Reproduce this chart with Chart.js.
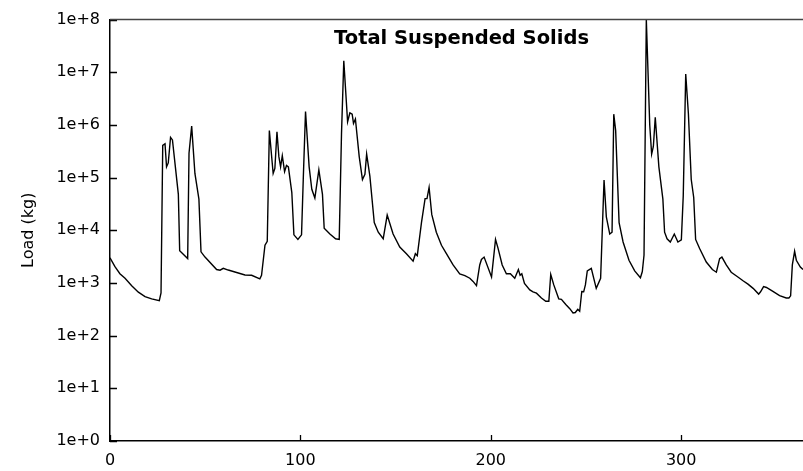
<!DOCTYPE html>
<html>

<head>
    <meta charset="utf-8">
    <title>Total Suspended Solids</title>
    <style>
        html, body { margin: 0; padding: 0; background: #fff; }
        #wrap { width: 803px; height: 471px; }
    </style>
</head>

<body>
    <div id="wrap"><canvas id="myChart"></canvas></div>
    <script src="https://cdn.jsdelivr.net/npm/chart.js@4.4.6/dist/chart.umd.min.js"></script>
    <script>
        // day of year
        const days = [
            0, 2.6, 5.2, 7.9, 11.4, 14.9, 18.4, 21.9, 25.9, 26.8,
            27.7, 28.9, 29.7, 30.6, 31.8, 32.8, 35.9, 36.6, 40.8, 41.5,
            42.9, 44.6, 46.7, 47.8, 49.9, 56, 57.8, 59.5, 62.1, 70.9,
            74.4, 78.7, 79.6, 81.4, 82.6, 83.7, 85.7, 86.6, 87.7, 88.7,
            89.6, 90.5, 91.7, 92.7, 93.7, 95.5, 96.6, 98.7, 100.6, 101.5,
            102.7, 104.6, 106, 107.6, 109.7, 111.6, 112.5, 115.5, 118.5, 120.4,
            121.6, 122.8, 124.8, 126, 127.2, 127.9, 128.9, 130.9, 132.6, 133.9,
            134.8, 136.5, 138.8, 140.9, 143.5, 145.6, 148.7, 152.2, 155.7, 159.2,
            160.4, 161.4, 163.6, 165.5, 166.5, 167.6, 169, 171.4, 174.1, 176.7,
            180.2, 183.7, 186.4, 189, 190.7, 192.5, 194.2, 195.1, 196.5, 200.4,
            202.5, 203.8, 206, 208.2, 210.3, 212.6, 214.5, 215.4, 216.3, 217.7,
            220.5, 222.2, 224, 226.6, 228.9, 230.5, 231.5, 233.1, 235.7, 237.1,
            239.4, 241.5, 243.2, 244.4, 245.7, 246.7, 247.8, 248.8, 249.7, 250.7,
            252.8, 255.4, 257.7, 259.5, 260.7, 262.5, 263.7, 264.6, 265.6, 267.4,
            269.5, 272.6, 275.6, 278.6, 279.6, 280.5, 281.7, 283.5, 284.5, 285.4,
            286.4, 288.3, 290.4, 291.3, 292.6, 294.3, 296.4, 298.3, 300.1, 301.1,
            302.4, 303.8, 305.3, 306.6, 307.6, 309.7, 313.2, 316.4, 318.5, 320.2,
            321.4, 323.7, 326.3, 329.8, 332.5, 335.1, 337.8, 340.7, 341.7, 343.3,
            344.8, 348.2, 351.7, 355.2, 356.6, 357.5, 358.4, 359.6, 360.5, 362.6,
            364
        ]
        // load in kg
        const loads = [
            3000, 2040, 1500, 1230, 890, 670, 550, 500, 460, 645,
            4.1e5, 4.4e5, 1.6e5, 1.9e5, 5.8e5, 5.2e5, 4.8e4, 4.1e3, 2.9e3, 2.9e5,
            9.5e5, 1.2e5, 3.9e4, 3.9e3, 3.1e3, 1.8e3, 1.75e3, 1.9e3, 1.76e3, 1.42e3,
            1.4e3, 1.2e3, 1.4e3, 5.2e3, 6.2e3, 7.8e5, 1.2e5, 1.5e5, 7.4e5, 2.5e5,
            1.6e5, 2.6e5, 1.3e5, 1.7e5, 1.6e5, 5.2e4, 8.2e3, 6.7e3, 8.2e3, 9e4,
            1.8e6, 1.6e5, 6e4, 4.1e4, 1.4e5, 4.8e4, 1.1e4, 8.5e3, 6.9e3, 6.7e3,
            6.9e5, 1.65e7, 1.15e6, 1.7e6, 1.6e6, 1.07e6, 1.3e6, 2.5e5, 9.2e4, 1.15e5,
            2.8e5, 1.07e5, 1.4e4, 9.2e3, 6.9e3, 1.95e4, 8.5e3, 4.8e3, 3.6e3, 2.6e3,
            3.6e3, 3.3e3, 1.4e4, 4e4, 4e4, 6.5e4, 2e4, 9.2e3, 5.2e3, 3.6e3,
            2.2e3, 1.48e3, 1.38e3, 1.23e3, 1.07e3, 890, 2.2e3, 2.8e3, 3.1e3, 1.3e3,
            6.7e3, 4.6e3, 2.2e3, 1.5e3, 1.5e3, 1.23e3, 1.8e3, 1.4e3, 1.5e3, 980,
            740, 680, 640, 520, 450, 450, 1.45e3, 920, 500, 490,
            390, 325, 270, 275, 316, 290, 690, 680, 920, 1.7e3,
            1.9e3, 790, 1.23e3, 9e4, 1.8e4, 8.5e3, 9.2e3, 1.6e6, 7.8e5, 1.4e4,
            6e3, 2.7e3, 1.7e3, 1.26e3, 1.65e3, 3.4e3, 1e8, 1e6, 2.8e5, 3.9e5,
            1.4e6, 1.6e5, 3.9e4, 9.2e3, 6.9e3, 6e3, 8.5e3, 6e3, 6.6e3, 4.5e4,
            9.3e6, 1.65e6, 9.2e4, 4.2e4, 6.7e3, 4.5e3, 2.5e3, 1.8e3, 1.6e3, 2.9e3,
            3.1e3, 2.2e3, 1.6e3, 1.3e3, 1.1e3, 950, 790, 615, 680, 850,
            820, 690, 575, 520, 520, 570, 2.2e3, 4e3, 2.7e3, 2e3,
            1.8e3
        ]
        const xTicks = [0, 100, 200, 300]
        const yTicks = [1, 10, 100, 1e3, 1e4, 1e5, 1e6, 1e7, 1e8]
        const titleText = "Total Suspended Solids"
        const yTitle = "Load (kg)"

        const FONT = "'DejaVu Sans', sans-serif"

        // inward tick marks, top frame line and the inset title
        const framePlugin = {
            id: "frame",
            afterDraw(chart) {
                const ctx = chart.ctx
                const area = chart.chartArea
                const xs = chart.scales.x
                const ys = chart.scales.y
                ctx.save()
                ctx.strokeStyle = "#000"
                ctx.lineWidth = 1.3
                ctx.beginPath()
                yTicks.forEach(v => {
                    const py = Math.round(ys.getPixelForValue(v)) + 0.5
                    ctx.moveTo(area.left, py)
                    ctx.lineTo(area.left + 7, py)
                })
                xTicks.forEach(v => {
                    const px = Math.round(xs.getPixelForValue(v)) + 0.5
                    ctx.moveTo(px, area.bottom)
                    ctx.lineTo(px, area.bottom - 6)
                })
                ctx.stroke()
                ctx.strokeStyle = "#444"
                ctx.lineWidth = 1.5
                ctx.beginPath()
                ctx.moveTo(area.left, area.top)
                ctx.lineTo(area.right, area.top)
                ctx.stroke()
                ctx.fillStyle = "#000"
                ctx.font = "bold 19.5px " + FONT
                ctx.textAlign = "center"
                ctx.textBaseline = "middle"
                ctx.fillText(titleText, (area.left + area.right) / 2 + 5, area.top + 19)
                ctx.restore()
            },
        }

        const config = {
            type: "line",
            data: {
                datasets: [{
                    label: "TSS",
                    data: days.map((d, i) => ({ x: d, y: loads[i] })),
                    borderColor: "#000",
                    borderWidth: 1.4,
                    pointRadius: 0,
                    fill: false,
                    tension: 0,
                }],
            },
            options: {
                responsive: true,
                maintainAspectRatio: false,
                animation: false,
                layout: { padding: { top: 15, right: 0, left: 0, bottom: 0 } },
                plugins: {
                    legend: { display: false },
                    tooltip: { enabled: false },
                },
                scales: {
                    x: {
                        type: "linear",
                        min: 0,
                        max: 364,
                        afterBuildTicks: s => { s.ticks = xTicks.map(v => ({ value: v })) },
                        afterFit: s => { s.height = 30 },
                        grid: { display: false, drawTicks: false },
                        border: { display: true, color: "#000", width: 1.5 },
                        ticks: {
                            padding: 10,
                            color: "#000",
                            font: { family: FONT, size: 16 },
                            maxRotation: 0,
                        },
                    },
                    y: {
                        type: "logarithmic",
                        min: 1,
                        max: 1e8,
                        afterBuildTicks: s => { s.ticks = yTicks.map(v => ({ value: v })) },
                        afterFit: s => { s.width = 110 },
                        grid: { display: false, drawTicks: false },
                        border: { display: true, color: "#000", width: 1.5 },
                        ticks: {
                            padding: 10,
                            color: "#000",
                            font: { family: FONT, size: 16 },
                            callback: v => "1e+" + Math.round(Math.log10(v)),
                        },
                        title: {
                            display: true,
                            text: yTitle,
                            color: "#000",
                            font: { family: FONT, size: 16 },
                            padding: { top: 19, bottom: 0 },
                        },
                    },
                },
            },
            plugins: [framePlugin],
        }
        new Chart(document.getElementById("myChart"), config)
    </script>
</body>

</html>
